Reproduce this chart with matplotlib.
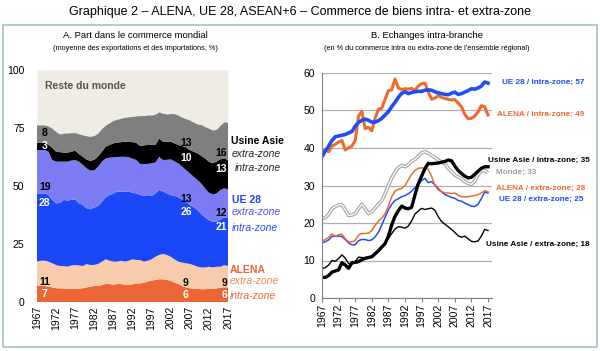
import numpy as np
import matplotlib
matplotlib.use("Agg")
import matplotlib.pyplot as plt
from matplotlib.patches import Rectangle

plt.rcParams["font.family"] = ["Liberation Sans", "DejaVu Sans"]

years = np.arange(1967, 2018)

# --- A. Part dans le commerce mondial (%), stacked shares ---
alena_intra = [6.9, 6.9, 6.9, 6.6, 6.3, 5.9, 5.9, 5.8, 5.7, 5.7, 5.7, 5.8, 5.9, 6.3, 6.6, 6.9, 6.9,
               7.3, 7.8, 7.8, 7.3, 7.8, 7.8, 7.3, 7.3, 7.6, 8.0, 8.0, 8.3, 8.8, 9.2, 9.5, 9.8, 9.8,
               9.5, 9.2, 8.3, 7.8, 6.9, 6.3, 5.9, 5.7, 5.7, 5.5, 5.5, 5.7, 5.8, 5.8, 6.2, 6.3, 6.3]
alena_extra = [10.5, 10.9, 10.9, 10.8, 10.4, 10.0, 9.6, 9.7, 9.5, 10.1, 10.2, 10.0, 9.6, 10.1, 9.3,
               9.1, 9.5, 10.1, 10.6, 10.0, 10.1, 9.6, 10.0, 10.1, 10.5, 10.8, 10.1, 10.1, 9.1, 9.0,
               9.2, 10.0, 10.5, 10.9, 10.8, 10.3, 10.1, 9.6, 10.1, 10.4, 10.5, 10.2, 9.5, 9.4, 9.4,
               9.5, 9.1, 9.4, 9.0, 9.6, 9.2]
ue_intra = [29.4, 29.0, 29.0, 28.7, 27.3, 26.6, 27.2, 28.5, 28.5, 28.2, 28.4, 26.7, 26.3, 24.0,
            24.0, 24.7, 25.0, 25.8, 26.7, 28.3, 29.4, 30.2, 29.8, 30.2, 29.8, 28.7, 28.7, 28.0,
            28.3, 28.3, 27.3, 27.3, 28.0, 26.9, 26.5, 26.6, 27.3, 27.7, 27.3, 26.5, 25.4, 24.9,
            24.5, 23.0, 21.6, 20.1, 19.7, 19.4, 20.4, 20.6, 20.6]
ue_extra = [18.7, 18.7, 18.7, 18.7, 17.2, 18.0, 17.8, 16.5, 16.8, 17.0, 16.9, 18.0, 17.3, 17.2,
            16.7, 16.1, 16.9, 17.3, 16.8, 16.1, 15.6, 14.9, 15.0, 15.0, 14.8, 14.7, 14.4, 13.4,
            13.8, 13.4, 14.1, 13.3, 14.3, 13.6, 14.5, 15.4, 14.9, 14.7, 14.0, 13.7, 13.7, 13.2,
            12.9, 13.2, 12.5, 11.8, 11.8, 12.2, 12.7, 12.5, 12.5]
asie_intra = [3.2, 3.2, 3.2, 2.9, 5.3, 4.3, 4.1, 3.9, 3.9, 3.8, 4.0, 3.3, 3.5, 3.8, 4.2, 4.6, 4.5,
              4.3, 5.1, 5.5, 6.0, 6.2, 6.3, 6.5, 6.6, 7.1, 7.5, 7.7, 8.0, 8.2, 7.9, 7.6, 7.9, 7.9,
              7.8, 7.6, 7.8, 7.9, 8.9, 9.8, 10.0, 10.8, 11.5, 11.9, 12.9, 13.4, 13.4, 13.7, 13.2,
              12.9, 12.6]
asie_extra = [7.6, 7.6, 7.6, 8.1, 8.4, 8.6, 7.8, 8.4, 8.4, 8.2, 7.8, 8.6, 9.4, 10.2, 10.6, 10.4,
              10.1, 10.1, 9.3, 9.6, 9.9, 10.1, 10.3, 10.5, 10.8, 11.1, 11.5, 13.1, 12.9, 12.9, 12.9,
              13.3, 11.5, 12.2, 11.9, 12.1, 12.8, 12.8, 12.4, 12.3, 12.9, 12.7, 12.6, 13.5, 13.7,
              14.4, 14.3, 14.0, 14.8, 15.8, 16.2]

# --- B. Echanges intra-branche (%) ---
ib_ue_intra = [37.7, 39.2, 40.5, 42.0, 43.0, 43.2, 43.4, 43.6, 44.0, 44.4, 45.8, 46.8, 47.4, 47.7,
               47.4, 46.9, 46.9, 47.3, 47.9, 48.8, 49.7, 51.0, 52.2, 53.5, 54.6, 55.0, 54.5, 54.8,
               55.0, 55.1, 55.1, 55.4, 55.5, 55.4, 55.0, 54.7, 54.5, 54.3, 54.2, 54.6, 54.9, 54.3,
               54.5, 54.9, 55.3, 55.8, 55.7, 56.0, 56.5, 57.6, 57.3]
ib_alena_intra = [39.2, 39.5, 39.0, 40.5, 41.0, 41.6, 42.0, 39.5, 40.0, 40.5, 42.0, 48.5, 49.8,
                  45.2, 45.5, 44.6, 48.0, 50.4, 50.6, 53.0, 55.3, 55.5, 58.4, 56.0, 55.6, 55.8,
                  55.7, 55.9, 55.4, 56.5, 57.2, 57.3, 55.0, 53.0, 53.3, 54.0, 53.5, 53.2, 53.0,
                  52.8, 52.9, 52.0, 51.0, 49.0, 47.8, 47.9, 48.5, 49.6, 51.3, 51.0, 48.8]
ib_monde = [21.2, 21.4, 22.3, 23.8, 24.4, 24.8, 24.9, 23.5, 22.0, 22.1, 22.5, 23.8, 25.0, 23.8,
            22.5, 23.0, 24.0, 25.0, 26.0, 27.8, 30.0, 32.0, 33.6, 34.8, 35.3, 35.0, 35.6, 36.5,
            37.0, 37.8, 38.7, 39.0, 38.6, 38.0, 37.5, 36.8, 36.3, 35.8, 34.6, 33.7, 32.8, 32.3,
            31.8, 31.0, 30.6, 30.3, 31.2, 32.8, 34.0, 34.0, 33.4]
ib_asie_intra = [5.5, 5.5, 6.0, 6.9, 7.2, 7.5, 9.4, 8.8, 7.9, 9.4, 9.5, 9.7, 10.2, 10.6, 10.8,
                 11.0, 11.8, 12.6, 13.6, 14.5, 16.5, 19.5, 21.8, 23.3, 24.5, 24.0, 23.8, 24.2,
                 27.5, 30.5, 32.5, 34.5, 35.9, 35.8, 35.9, 36.0, 36.2, 36.4, 36.8, 36.6, 35.2,
                 34.0, 33.2, 32.5, 32.0, 32.2, 33.0, 33.8, 34.6, 35.0, 35.0]
ib_alena_extra = [15.2, 15.6, 16.2, 17.1, 16.4, 16.9, 17.0, 15.8, 15.0, 15.0, 15.3, 16.8, 17.2,
                  17.2, 17.3, 18.0, 19.4, 20.5, 21.3, 22.5, 24.5, 27.0, 28.5, 29.0, 29.2, 30.0,
                  31.5, 33.0, 34.0, 34.6, 34.7, 34.6, 34.3, 32.5, 30.0, 28.8, 28.4, 28.0, 28.0,
                  27.8, 28.0, 27.4, 27.0, 27.0, 27.0, 27.2, 27.3, 27.6, 28.0, 28.6, 28.3]
ib_ue_extra = [14.8, 15.0, 15.5, 16.4, 16.5, 16.5, 16.4, 15.6, 14.7, 14.2, 14.2, 15.3, 15.6, 15.6,
               15.3, 15.5, 16.3, 17.5, 19.5, 21.5, 23.5, 25.0, 26.0, 26.5, 27.0, 27.3, 27.8, 28.5,
               29.4, 30.4, 31.3, 31.9, 30.8, 31.0, 30.2, 29.2, 28.3, 27.6, 27.2, 26.8, 26.6, 26.0,
               25.8, 25.3, 24.9, 24.5, 24.4, 25.0, 26.5, 28.2, 28.0]
ib_asie_extra = [7.9, 8.1, 8.8, 10.0, 9.8, 10.5, 11.5, 10.6, 9.2, 9.1, 9.7, 10.9, 10.8, 10.6,
                 10.8, 11.2, 11.9, 12.8, 13.7, 14.6, 15.9, 17.2, 18.4, 19.0, 18.9, 18.6, 19.2,
                 20.6, 22.4, 23.2, 23.9, 23.6, 23.8, 24.0, 23.4, 21.7, 20.4, 19.7, 19.0, 18.3,
                 17.5, 16.6, 16.2, 16.5, 15.8, 15.1, 15.0, 15.2, 16.5, 18.3, 18.0]

W, H = 600, 351
fig = plt.figure(figsize=(6, 3.51), dpi=100)


def px(x, y):
    return x / W, 1 - y / H


# frame around both panels
fig.patches.append(Rectangle(px(3, 347), 594 / W, 322 / H, transform=fig.transFigure,
                             fill=False, edgecolor="#a9c9c9", linewidth=1.3))

fig.text(*px(300, 12), "Graphique 2 – ALENA, UE 28, ASEAN+6 – Commerce de biens intra- et extra-zone",
         ha="center", va="center", fontsize=9)
fig.text(*px(135, 36), "A. Part dans le commerce mondial", ha="center", va="center", fontsize=6.8)
fig.text(*px(135, 48), "(moyenne des exportations et des importations, %)", ha="center",
         va="center", fontsize=5.3)
fig.text(*px(427, 36), "B. Echanges intra-branche", ha="center", va="center", fontsize=6.8)
fig.text(*px(427, 48), "(en % du commerce intra ou extra-zone de l’ensemble régional)",
         ha="center", va="center", fontsize=5.3)

# ---------------- panel A ----------------
axA = fig.add_axes([37 / W, 1 - 302 / H, 191 / W, 232 / H])
cols = ["#ec6534", "#f7cbab", "#1a48f6", "#7c7cf4", "#000000", "#7f7f7f"]
axA.stackplot(years, alena_intra, alena_extra, ue_intra, ue_extra, asie_intra, asie_extra,
              colors=cols, linewidth=0)
total = np.sum([alena_intra, alena_extra, ue_intra, ue_extra, asie_intra, asie_extra], axis=0)
axA.fill_between(years, total, 100, color="#efece3", linewidth=0)
axA.set_xlim(1967, 2017)
axA.set_ylim(0, 100)
for s in axA.spines.values():
    s.set_visible(False)
axA.set_yticks([0, 25, 50, 75, 100])
axA.set_xticks(np.arange(1967, 2018, 5))
axA.tick_params(axis="y", length=0, pad=9, labelsize=7.5)
axA.tick_params(axis="x", length=0, pad=3, labelsize=7.5, labelrotation=90)
axA.text(1969, 93, "Reste du monde", fontsize=7.5, fontweight="bold", color="#555555",
         va="center")

lab = dict(fontsize=7.5, fontweight="bold", ha="center", va="center")
for x, y, t, c in [(1969, 73, "8", "k"), (1969, 67.3, "3", "w"), (1969, 49.7, "19", "k"),
                   (1969, 42.8, "28", "w"), (1969, 8.7, "11", "k"), (1969, 3.3, "7", "w"),
                   (2006, 68.4, "13", "k"), (2006, 62.2, "10", "w"), (2006, 44.4, "13", "k"),
                   (2006, 38.9, "26", "w"), (2006, 8.3, "9", "k"), (2006, 3.0, "6", "w"),
                   (2015.3, 64.1, "16", "k"), (2015.3, 57.5, "13", "w"), (2015.3, 38.5, "12", "k"),
                   (2015.3, 32.5, "21", "w"), (2016, 8.3, "9", "k"), (2016, 3.0, "6", "w")]:
    axA.text(x, y, t, color=c, **lab)

side = [(141, "Usine Asie", "k", "bold", "normal", 231),
        (154, "extra-zone", "#222222", "normal", "italic", 232),
        (168, "intra-zone", "#222222", "normal", "italic", 235),
        (200, "UE 28", "#2040f0", "bold", "normal", 232),
        (212, "extra-zone", "#5050ee", "normal", "italic", 232),
        (228, "intra-zone", "#2a4af0", "normal", "italic", 232),
        (270, "ALENA", "#ec6534", "bold", "normal", 230),
        (281, "extra-zone", "#f08a55", "normal", "italic", 230),
        (296, "intra-zone", "#ec6534", "normal", "italic", 230)]
for y, t, c, w, st, x in side:
    fig.text(*px(x, y), t, color=c, fontweight=w, fontstyle=st, fontsize=7.5,
             ha="left", va="center")

# ---------------- panel B ----------------
axB = fig.add_axes([322 / W, 1 - 298 / H, 170 / W, 225 / H])
axB.set_xlim(1967, 2018.2)
axB.set_ylim(0, 60)
axB.set_yticks(np.arange(0, 61, 10))
axB.set_xticks(np.arange(1967, 2018, 5))
axB.grid(axis="y", color="#b0b0b0", linewidth=0.9)
axB.set_axisbelow(True)
axB.spines["top"].set_visible(False)
axB.spines["right"].set_visible(False)
axB.spines["left"].set_color("#808080")
axB.spines["bottom"].set_color("#808080")
axB.tick_params(axis="y", length=0, pad=5, labelsize=7.5)
axB.tick_params(axis="x", length=3, color="#808080", pad=1, labelsize=7.5, labelrotation=90)

axB.plot(years, ib_monde, color="#a6a6a6", lw=2.6, solid_capstyle="butt")
axB.plot(years, ib_monde, color="white", lw=0.9)
axB.plot(years, ib_asie_extra, color="k", lw=1.0)
axB.plot(years, ib_ue_extra, color="#1f4ef5", lw=1.1)
axB.plot(years, ib_alena_extra, color="#ee6a2e", lw=1.1)
axB.plot(years, ib_asie_intra, color="k", lw=2.4)
axB.plot(years, ib_alena_intra, color="#ee6a2e", lw=2.2)
axB.plot(years, ib_ue_intra, color="#1f4ef5", lw=2.6)

rlab = [(502, 82, "UE 28 / intra-zone; 57", "#1f4ef5"),
        (497, 114, "ALENA / intra-zone; 49", "#ee6a2e"),
        (488, 160, "Usine Asie / intra-zone; 35", "k"),
        (496, 172, "Monde; 33", "#a0a0a0"),
        (496, 188, "ALENA / extra-zone; 28", "#ee6a2e"),
        (499, 199, "UE 28 / extra-zone; 25", "#1f4ef5"),
        (486, 244, "Usine Asie / extra-zone; 18", "k")]
for x, y, t, c in rlab:
    fig.text(*px(x, y), t, color=c, fontsize=5.9, fontweight="bold", ha="left", va="center")

fig.savefig("out.png", dpi=100)
